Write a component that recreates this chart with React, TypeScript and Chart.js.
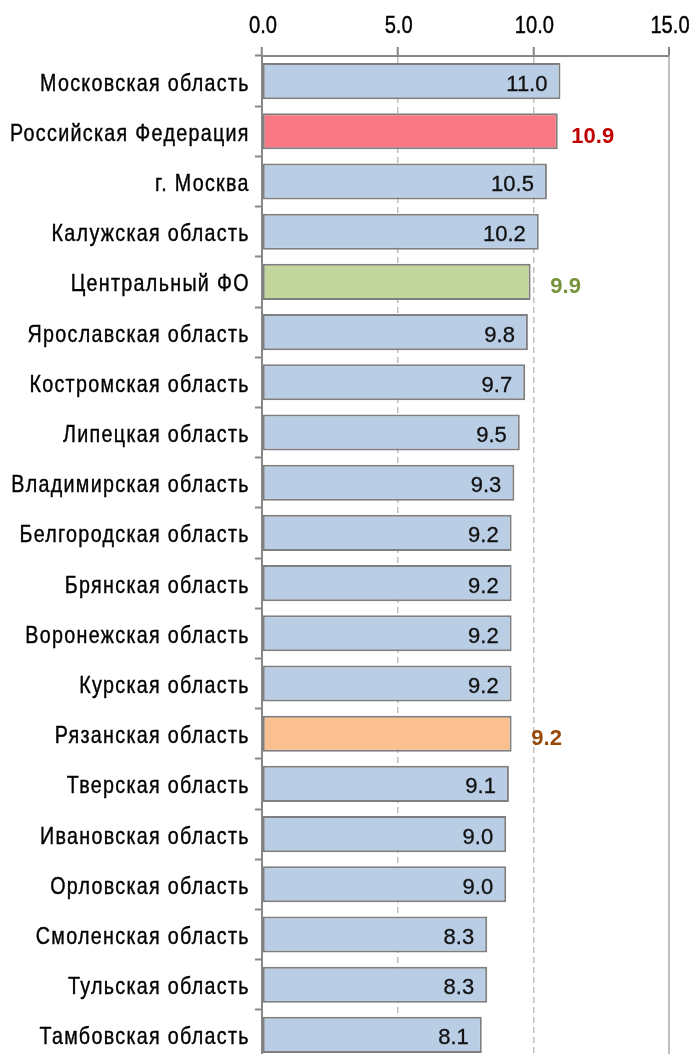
import React, { useEffect, useRef } from "react";
import { Chart, registerables } from "chart.js";

Chart.register(...registerables);

const categories = [
  "Московская область",
  "Российская Федерация",
  "г. Москва",
  "Калужская область",
  "Центральный ФО",
  "Ярославская область",
  "Костромская область",
  "Липецкая область",
  "Владимирская область",
  "Белгородская область",
  "Брянская область",
  "Воронежская область",
  "Курская область",
  "Рязанская область",
  "Тверская область",
  "Ивановская область",
  "Орловская область",
  "Смоленская область",
  "Тульская область",
  "Тамбовская область",
];

const values = [11.0, 10.9, 10.5, 10.2, 9.9, 9.8, 9.7, 9.5, 9.3, 9.2, 9.2, 9.2, 9.2, 9.2, 9.1, 9.0, 9.0, 8.3, 8.3, 8.1];

const xTicks = [0, 5, 10, 15];

// highlighted categories
const highlightNames = ["Российская Федерация", "Центральный ФО", "Рязанская область"];
const highlightFills = ["#F87983", "#C3D69B", "#FAC090"];
const highlightLabelColors = ["#C00000", "#77933C", "#984807"];

const BASE_FILL = "#B9CDE5";
const FONT = "'Liberation Sans', Arial, sans-serif";

type TextOpts = {
  size: number;
  bold?: boolean;
  color: string;
  align: "left" | "right" | "center";
  sx: number;
  ls: number;
  stroke?: number;
};

function drawText(ctx: CanvasRenderingContext2D, text: string, x: number, y: number, o: TextOpts) {
  ctx.save();
  ctx.font = `${o.bold ? "bold " : ""}${o.size}px ${FONT}`;
  (ctx as any).letterSpacing = "0px";
  const w0 = ctx.measureText(text).width;
  const w = (w0 + o.ls * (text.length - 1)) * o.sx;
  (ctx as any).letterSpacing = `${o.ls}px`;
  const left = o.align === "right" ? x - w : o.align === "center" ? x - w / 2 : x;
  ctx.fillStyle = o.color;
  ctx.strokeStyle = o.color;
  ctx.textAlign = "left";
  ctx.textBaseline = "alphabetic";
  ctx.translate(left, y);
  ctx.scale(o.sx, 1);
  ctx.fillText(text, 0, 0);
  if (o.stroke) {
    ctx.lineWidth = o.stroke;
    ctx.strokeText(text, 0, 0);
  }
  ctx.restore();
}

export default function App() {
  const ref = useRef<HTMLCanvasElement | null>(null);

  useEffect(() => {
    if (!ref.current) return;
    const hIndex = (i: number) => highlightNames.indexOf(categories[i]);

    const labelPlugin = {
      id: "textLabels",
      afterDraw(chart: any) {
        const ctx = chart.ctx as CanvasRenderingContext2D;
        const xs = chart.scales.x;
        const ys = chart.scales.y;
        // x tick labels (top)
        xTicks.forEach((v) => {
          drawText(ctx, v.toFixed(1), xs.getPixelForValue(v) + 1, 32.5, {
            size: 24, color: "#000000", align: "center", sx: 0.84, ls: 0, stroke: 0.4,
          });
        });
        // category labels
        categories.forEach((c, i) => {
          const y = ys.getPixelForValue(i);
          drawText(ctx, c, 248.5, y + 9.5, {
            size: 24, color: "#000000", align: "right", sx: 0.82, ls: 1.6, stroke: 0.4,
          });
        });
        // value labels
        const meta = chart.getDatasetMeta(0);
        meta.data.forEach((bar: any, i: number) => {
          const txt = values[i].toFixed(1);
          const h = hIndex(i);
          if (h >= 0) {
            drawText(ctx, txt, bar.x + 35, bar.y + 11.5, {
              size: 22, bold: true, color: highlightLabelColors[h], align: "center", sx: 1, ls: 0,
            });
          } else {
            drawText(ctx, txt, bar.x - 13, bar.y + 9.5, {
              size: 22, color: "#111111", align: "right", sx: 1, ls: 0, stroke: 0.3,
            });
          }
        });
      },
    };

    const chart = new Chart(ref.current, {
      type: "bar",
      data: {
        labels: categories,
        datasets: [
          {
            data: values,
            backgroundColor: categories.map((_, i) => (hIndex(i) >= 0 ? highlightFills[hIndex(i)] : BASE_FILL)),
            borderColor: "#7F7F7F",
            borderWidth: 2,
            borderSkipped: false,
            barPercentage: 0.72,
            categoryPercentage: 1,
          },
        ],
      },
      options: {
        indexAxis: "y",
        responsive: false,
        animation: false,
        layout: { padding: { left: 0, right: 26, top: 0, bottom: 0 } },
        plugins: {
          legend: { display: false },
          tooltip: { enabled: false },
        },
        scales: {
          x: {
            position: "top",
            min: 0,
            max: 15,
            afterBuildTicks: (scale: any) => {
              scale.ticks = xTicks.map((v) => ({ value: v }));
            },
            afterFit: (scale: any) => {
              scale.height = 56;
            },
            ticks: { display: false },
            grid: {
              color: (c: any) =>
                c.tick && c.tick.value === 0 ? "rgba(0,0,0,0)" : c.tick && c.tick.value === 15 ? "#C0C0C0" : "#BDBDBD",
              lineWidth: (c: any) => (c.tick && c.tick.value === 15 ? 2 : 1.5),
              tickColor: "#868686",
              tickWidth: 2,
              tickLength: 9,
            },
            border: {
              color: "#868686",
              width: 2,
              dash: (c: any) => (c.tick && c.tick.value !== 15 ? [6, 4] : []),
            },
          },
          y: {
            afterFit: (scale: any) => {
              scale.width = 262;
            },
            ticks: { display: false },
            grid: {
              drawOnChartArea: false,
              drawTicks: true,
              tickLength: 7,
              tickColor: "#868686",
              tickWidth: 2,
              offset: true,
            },
            border: { color: "#868686", width: 2 },
          },
        },
      },
      plugins: [labelPlugin],
    } as any);

    return () => chart.destroy();
  }, []);

  return (
    <div style={{ position: "absolute", left: 0, top: 0, width: 695, height: 1054, overflow: "hidden", background: "#fff" }}>
      <canvas ref={ref} width={695} height={1060} style={{ width: 695, height: 1060, display: "block" }} />
    </div>
  );
}
